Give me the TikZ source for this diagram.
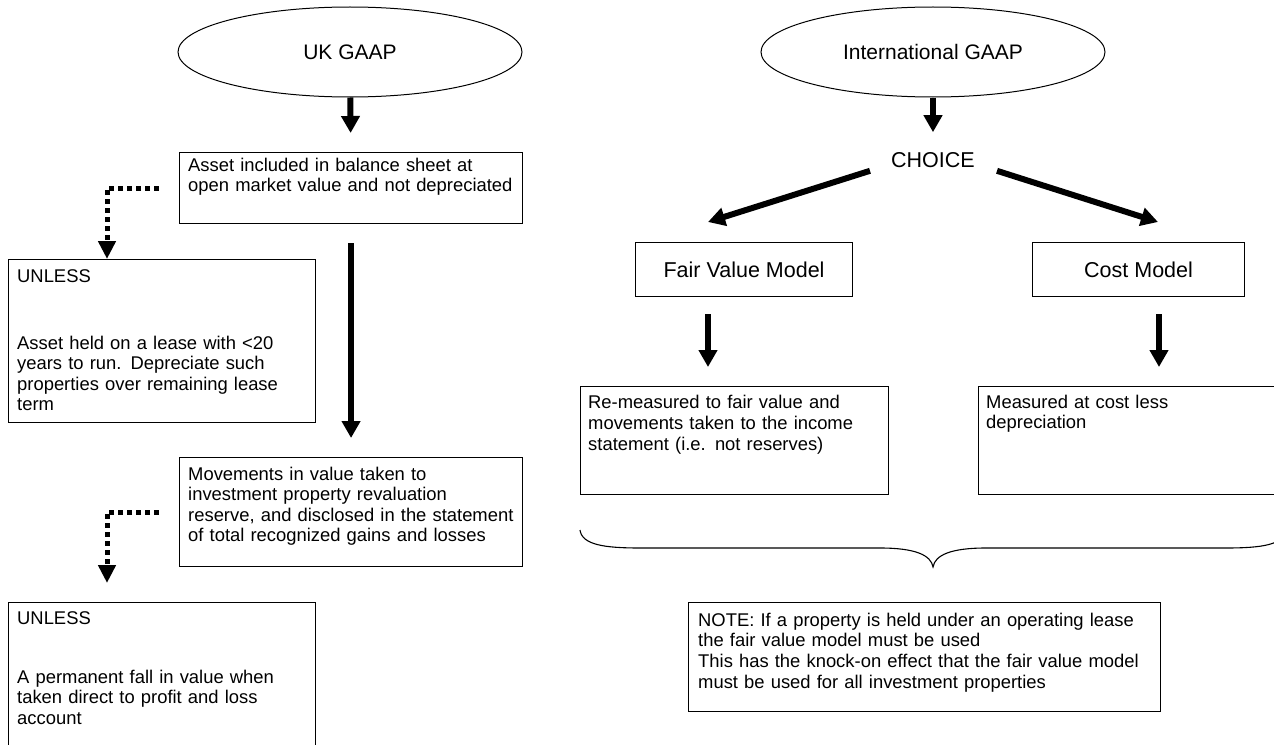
\documentclass[tikz,border=0pt]{standalone}
\usepackage{fontspec}
\setmainfont{Liberation Sans}
\usetikzlibrary{arrows.meta,shapes.geometric}
\begin{document}
\begin{tikzpicture}[x=1bp,y=-1bp,
  frame/.style={draw=black,line width=1.1bp,inner sep=0pt,anchor=north west},
  oval/.style={ellipse,draw=black,line width=1bp,minimum width=344bp,minimum height=90bp,inner sep=0pt,font=\fontsize{21bp}{25bp}\selectfont},
  heading/.style={inner sep=0pt,font=\fontsize{21.5bp}{25bp}\selectfont},
  body/.style={anchor=base west,inner sep=0pt,text width=#1,align=left,font=\fontsize{18.4bp}{20.6bp}\selectfont},
  body/.default=480bp,
  flow/.style={line width=6bp,-{Triangle[width=18bp,length=17bp]}},
  dotflow/.style={line width=5bp,dash pattern=on 5bp off 4bp,-{Triangle[width=17bp,length=18bp]}},
]
\useasboundingbox (0,0) rectangle (1274,745);
\fill[white] (0,0) rectangle (1274,745);
\clip (0,0) rectangle (1274,745);

% ---------------- UK GAAP column ----------------
\node[oval] (uk) at (350,52) {UK GAAP};

\node[frame,minimum width=343bp,minimum height=71bp] (asset) at (179,152) {};
\node[body] (assettxt) at (188,171) {Asset included in balance sheet at\\open market value and not depreciated};

\node[frame,minimum width=307bp,minimum height=163bp] (unlessA) at (8,259) {};
\node[body] (unlessAhead) at (17,282) {UNLESS};
\node[body] (unlessAtxt) at (17,349) {Asset held on a lease with <20\\years to run. Depreciate such\\properties over remaining lease\\term};

\node[frame,minimum width=343bp,minimum height=109bp] (mov) at (179,457) {};
\node[body] (movtxt) at (188,480) {Movements in value taken to\\investment property revaluation\\reserve, and disclosed in the statement\\of total recognized gains and losses};

\node[frame,minimum width=307bp,minimum height=170bp] (unlessB) at (8,602) {};
\node[body] (unlessBhead) at (17,624) {UNLESS};
\node[body] (unlessBtxt) at (17,683) {A permanent fall in value when\\taken direct to profit and loss\\account};

\coordinate (lx) at (107,0);
\draw[flow,shorten >=19bp] (uk) -- (asset);
\draw[flow,shorten <=19bp,shorten >=19bp] (asset) -- (mov);
\draw[dotflow] ([xshift=-20bp]asset.west) -| (unlessA.north -| lx);
\draw[dotflow,shorten >=19bp] ([xshift=-20bp]mov.west) -| (unlessB.north -| lx);

% ---------------- International GAAP column ----------------
\node[oval] (intl) at (933,52) {International GAAP};
\node[heading] (choice) at (933,160) {CHOICE};

\node[frame,minimum width=217bp,minimum height=54bp] (fv) at (635,242) {};
\node[heading] (fvtxt) at (fv.center) {Fair Value Model};
\node[frame,minimum width=212bp,minimum height=54bp] (cm) at (1032,242) {};
\node[heading] (cmtxt) at (cm.center) {Cost Model};

\node[frame,minimum width=308bp,minimum height=108bp] (fvm) at (580,386) {};
\node[body] (fvmtxt) at (588,408) {\baselineskip=21.5bp Re-measured to fair value and\\movements taken to the income\\statement (i.e. not reserves)};
\node[frame,minimum width=330bp,minimum height=108bp] (cmm) at (978,386) {};
\node[body] (cmmtxt) at (986,408) {\baselineskip=21.5bp Measured at cost less\\depreciation};

\node[frame,minimum width=472bp,minimum height=109bp] (note) at (688,602) {};
\node[body] (notetxt) at (698,626) {\baselineskip=20.9bp NOTE: If a property is held under an operating lease\\the fair value model must be used\\This has the knock-on effect that the fair value model\\must be used for all investment properties};

\coordinate (fvtip) at (708,222);
\coordinate (cmtip) at (1158,222);
\coordinate (fvx) at (708,0);
\coordinate (cmx) at (1159,0);
\draw[flow,shorten >=20bp] (intl) -- (choice);
\draw[flow] ([shift={(-21bp,-3bp)}]choice.south west) -- (fvtip);
\draw[flow] ([shift={(22bp,-3bp)}]choice.south east) -- (cmtip);
\draw[flow,shorten <=17bp,shorten >=19bp] (fv.south -| fvx) -- (fvm.north -| fvx);
\draw[flow,shorten <=17bp,shorten >=19bp] (cm.south -| cmx) -- (cmm.north -| cmx);

% brace gathering both models
\draw[line width=1.1bp] (580,530) .. controls (582,545) and (605,548) .. (640,548)
  -- (880,548) .. controls (915,548) and (931,555) .. (933,567)
  .. controls (935,555) and (951,548) .. (986,548)
  -- (1226,548) .. controls (1261,548) and (1284,545) .. (1286,530);
\end{tikzpicture}
\end{document}
